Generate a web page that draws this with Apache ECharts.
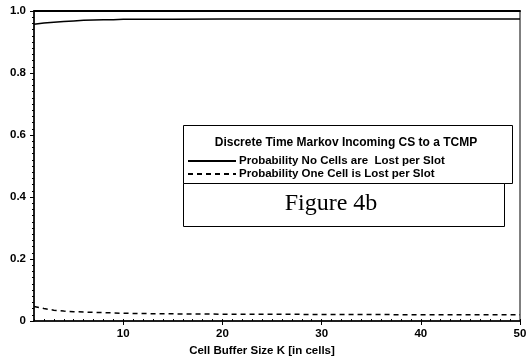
<!DOCTYPE html>
<html><head><meta charset="utf-8">
<script src="https://cdn.jsdelivr.net/npm/echarts@6/dist/echarts.min.js"></script>
<style>html,body{margin:0;padding:0;background:#fff}#c{width:530px;height:364px}</style>
</head><body><div id="c"></div>
<script>
const bufferSize = [1,2,3,4,5,6,7,8,9,10,12,15,20,25,30,35,40,45,50];
const probNoLoss = [0.957,0.961,0.964,0.966,0.968,0.970,0.971,0.972,0.972,0.973,0.973,0.973,0.974,0.974,0.974,0.974,0.974,0.974,0.974];
const probOneLoss = [0.047,0.040,0.035,0.032,0.030,0.029,0.028,0.027,0.026,0.025,0.024,0.023,0.022,0.022,0.021,0.021,0.020,0.020,0.020];
const xTickLabels = [10,20,30,40,50];
const seriesNames = ['Probability No Cells are  Lost per Slot','Probability One Cell is Lost per Slot'];
const legendTitle = 'Discrete Time Markov Incoming CS to a TCMP';
const figureLabel = 'Figure 4b';

const font = 'Liberation Sans, Arial, sans-serif';
const minorX = [];
for (let i = 1; i <= 50; i++) minorX.push(i);

const chart = echarts.init(document.getElementById('c'));
chart.setOption({
  animation: false,
  backgroundColor: '#fff',
  grid: {left: 34, right: 10, top: 11, bottom: 43, show: true, borderColor: '#000', borderWidth: 1},
  xAxis: [{
    type: 'value', min: 1, max: 50, position: 'bottom',
    name: 'Cell Buffer Size K [in cells]', nameLocation: 'middle', nameGap: 23,
    nameTextStyle: {fontFamily: font, fontSize: 11.5, fontWeight: 'bold', color: '#000', padding: [0, 30, 0, 0]},
    axisLine: {lineStyle: {color: '#000', width: 1.5}},
    axisTick: {customValues: xTickLabels, length: 4, inside: false, lineStyle: {color: '#000'}},
    axisLabel: {customValues: xTickLabels, fontFamily: font, fontSize: 11.5, fontWeight: 'bold', color: '#000', margin: 7},
    splitLine: {show: false}
  }, {
    type: 'value', min: 1, max: 50, position: 'bottom',
    axisLine: {show: false},
    axisTick: {customValues: minorX, length: 2, inside: true, lineStyle: {color: '#000'}},
    axisLabel: {show: false},
    splitLine: {show: false}
  }, {
    type: 'value', min: 1, max: 50, position: 'top',
    axisLine: {lineStyle: {color: '#000', width: 2}},
    axisTick: {show: false}, axisLabel: {show: false}, splitLine: {show: false}
  }],
  yAxis: {
    type: 'value', min: 0, max: 1, interval: 0.2,
    axisLine: {show: true, lineStyle: {color: '#000', width: 1.5}},
    axisTick: {show: true, length: 4, lineStyle: {color: '#000'}},
    minorTick: {show: true, splitNumber: 10, length: 2, lineStyle: {color: '#000'}},
    axisLabel: {fontFamily: font, fontSize: 11.5, fontWeight: 'bold', color: '#000', margin: 8,
      formatter: v => v === 0 ? '0' : v.toFixed(1)},
    splitLine: {show: false}
  },
  legend: {
    orient: 'vertical', left: 187, top: 155, itemWidth: 48, itemHeight: 9, itemGap: 1,
    padding: 0,
    itemStyle: {opacity: 0},
    textStyle: {fontFamily: font, fontSize: 11.5, fontWeight: 'bold', color: '#000', padding: [0,0,0,-2]},
    data: seriesNames
  },
  series: [{
    name: seriesNames[0], type: 'line', symbol: 'none', xAxisIndex: 0,
    data: bufferSize.map((k, i) => [k, probNoLoss[i]]),
    lineStyle: {color: '#000', width: 1.5}, itemStyle: {color: '#000'}
  }, {
    name: seriesNames[1], type: 'line', symbol: 'none', xAxisIndex: 0,
    data: bufferSize.map((k, i) => [k, probOneLoss[i]]),
    lineStyle: {color: '#000', width: 1.5, type: [5, 4]}, itemStyle: {color: '#000'}
  }],
  graphic: [
    {type: 'rect', z: 0, shape: {x: 183.5, y: 125.5, width: 329, height: 58}, style: {fill: '#fff', stroke: '#000', lineWidth: 1}},
    {type: 'text', z: 10, style: {x: 346, y: 143, text: legendTitle, align: 'center', verticalAlign: 'middle', font: 'bold 12px ' + font, fill: '#000'}},
    {type: 'rect', z: 0, shape: {x: 183.5, y: 183.5, width: 321, height: 43}, style: {fill: '#fff', stroke: '#000', lineWidth: 1}},
    {type: 'text', z: 10, style: {x: 331, y: 204, text: figureLabel, align: 'center', verticalAlign: 'middle', font: '24px "Liberation Serif", "Times New Roman", serif', fill: '#000'}}
  ]
});
</script></body></html>
